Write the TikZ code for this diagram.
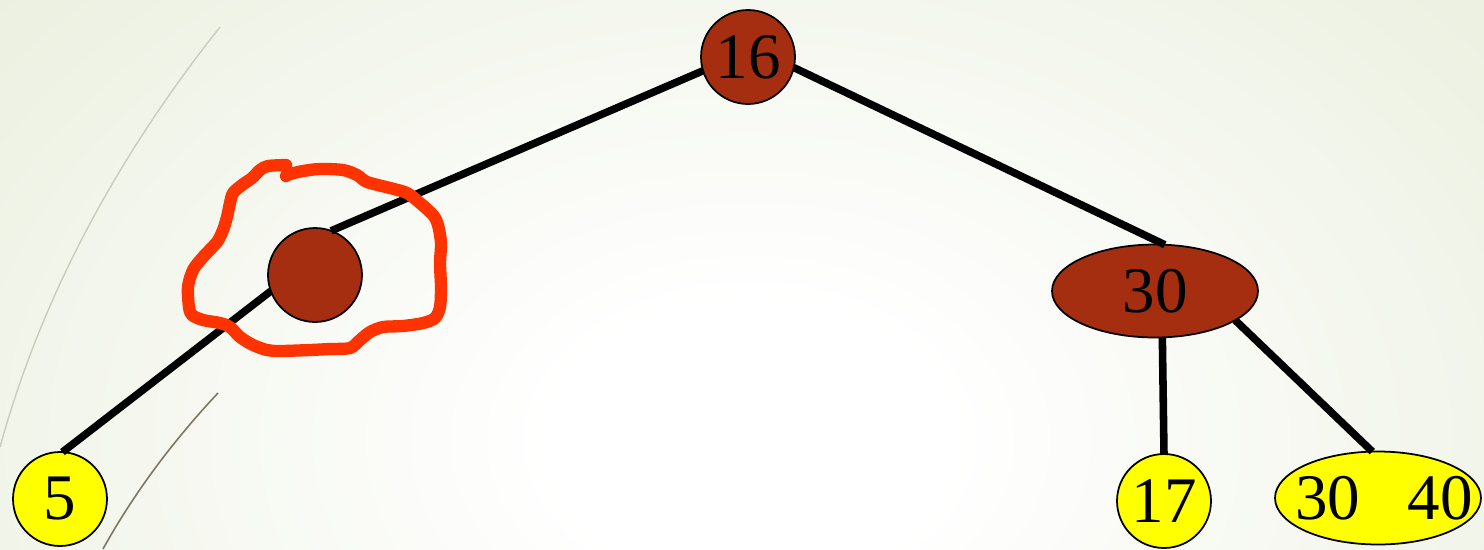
\documentclass[tikz,border=0pt]{standalone}
\usepackage{fontspec}
\setmainfont{Liberation Serif}
\usetikzlibrary{shapes.geometric}
\definecolor{brn}{RGB}{165,46,16}
\definecolor{ylw}{RGB}{255,255,0}
\definecolor{bgg}{RGB}{222,230,203}
\definecolor{pen}{RGB}{255,51,0}
\pgfdeclareradialshading{glow}{\pgfpoint{0bp}{0bp}}{color(0bp)=(white); color(5bp)=(white); color(38bp)=(bgg); color(50bp)=(bgg)}
\begin{document}
\begin{tikzpicture}[x=0.02cm, y=-0.02cm, line join=round,
  font=\fontsize{37}{40}\selectfont,
  nd/.style={draw=black, line width=1pt, inner sep=0pt, outer sep=0pt},
  rnd/.style={nd, circle, minimum size=1.88cm},
  oval/.style={nd, ellipse, inner xsep=-0.7cm, minimum width=4.12cm, minimum height=1.86cm},
  edge/.style={line width=4.3pt}]
\useasboundingbox (0,0) rectangle (1484,549);
\begin{scope}
\clip (0,0) rectangle (1484,549);
\fill[bgg] (0,0) rectangle (1484,549);
\shade[shading=glow] (750,440) ellipse [x radius=1000, y radius=700];
\end{scope}
\draw[line width=0.8pt, color={rgb,255:red,204;green,204;blue,190}]
(220,27) .. controls (113,162) and (40,302) .. (0,447);
\draw[line width=0.9pt, color={rgb,255:red,125;green,118;blue,100}]
(218,393) .. controls (173,441) and (134,493) .. (103,549);
\path
(748,57) node[rnd, fill=brn] (n16) {16}
(315,275) node[rnd, fill=brn] (nE) {}
(1155,291) node[oval, fill=brn] (n30) {30}
(60,499) node[rnd, fill=ylw] (n5) {5}
(1164,501) node[rnd, fill=ylw] (n17) {17}
(1378,498) node[oval, fill=ylw] (n3040) {\hspace{0.24cm}30\hspace{0.95cm}40}
;
\draw[edge]
(n16.197)--(nE.70) (nE.200)--(n5.87)
(n16.-13)--(n30.78) (n30.-81)--(n17.north) (n30.-20)--(n3040.97)
;
\draw[pen, line width=7pt, line cap=round] plot[smooth] coordinates {
(286,165) (268,166) (260,170) (252,178) (242,185) (233,193) (230,203)
(227,217) (223,230) (217,242) (203,257) (193,270) (188,287) (189,307)
(192,315) (203,320) (220,323) (230,327) (240,337) (253,345) (267,350)
(280,351) (310,350) (330,349) (350,348) (360,340) (370,332) (383,327)
(403,326) (423,323) (435,318) (440,307) (441,287) (440,263) (441,243)
(438,225) (433,215) (420,203) (407,193) (390,188) (367,182) (357,175)
(343,170) (320,169) (303,171) (290,174) (286,176)};
\end{tikzpicture}
\end{document}
